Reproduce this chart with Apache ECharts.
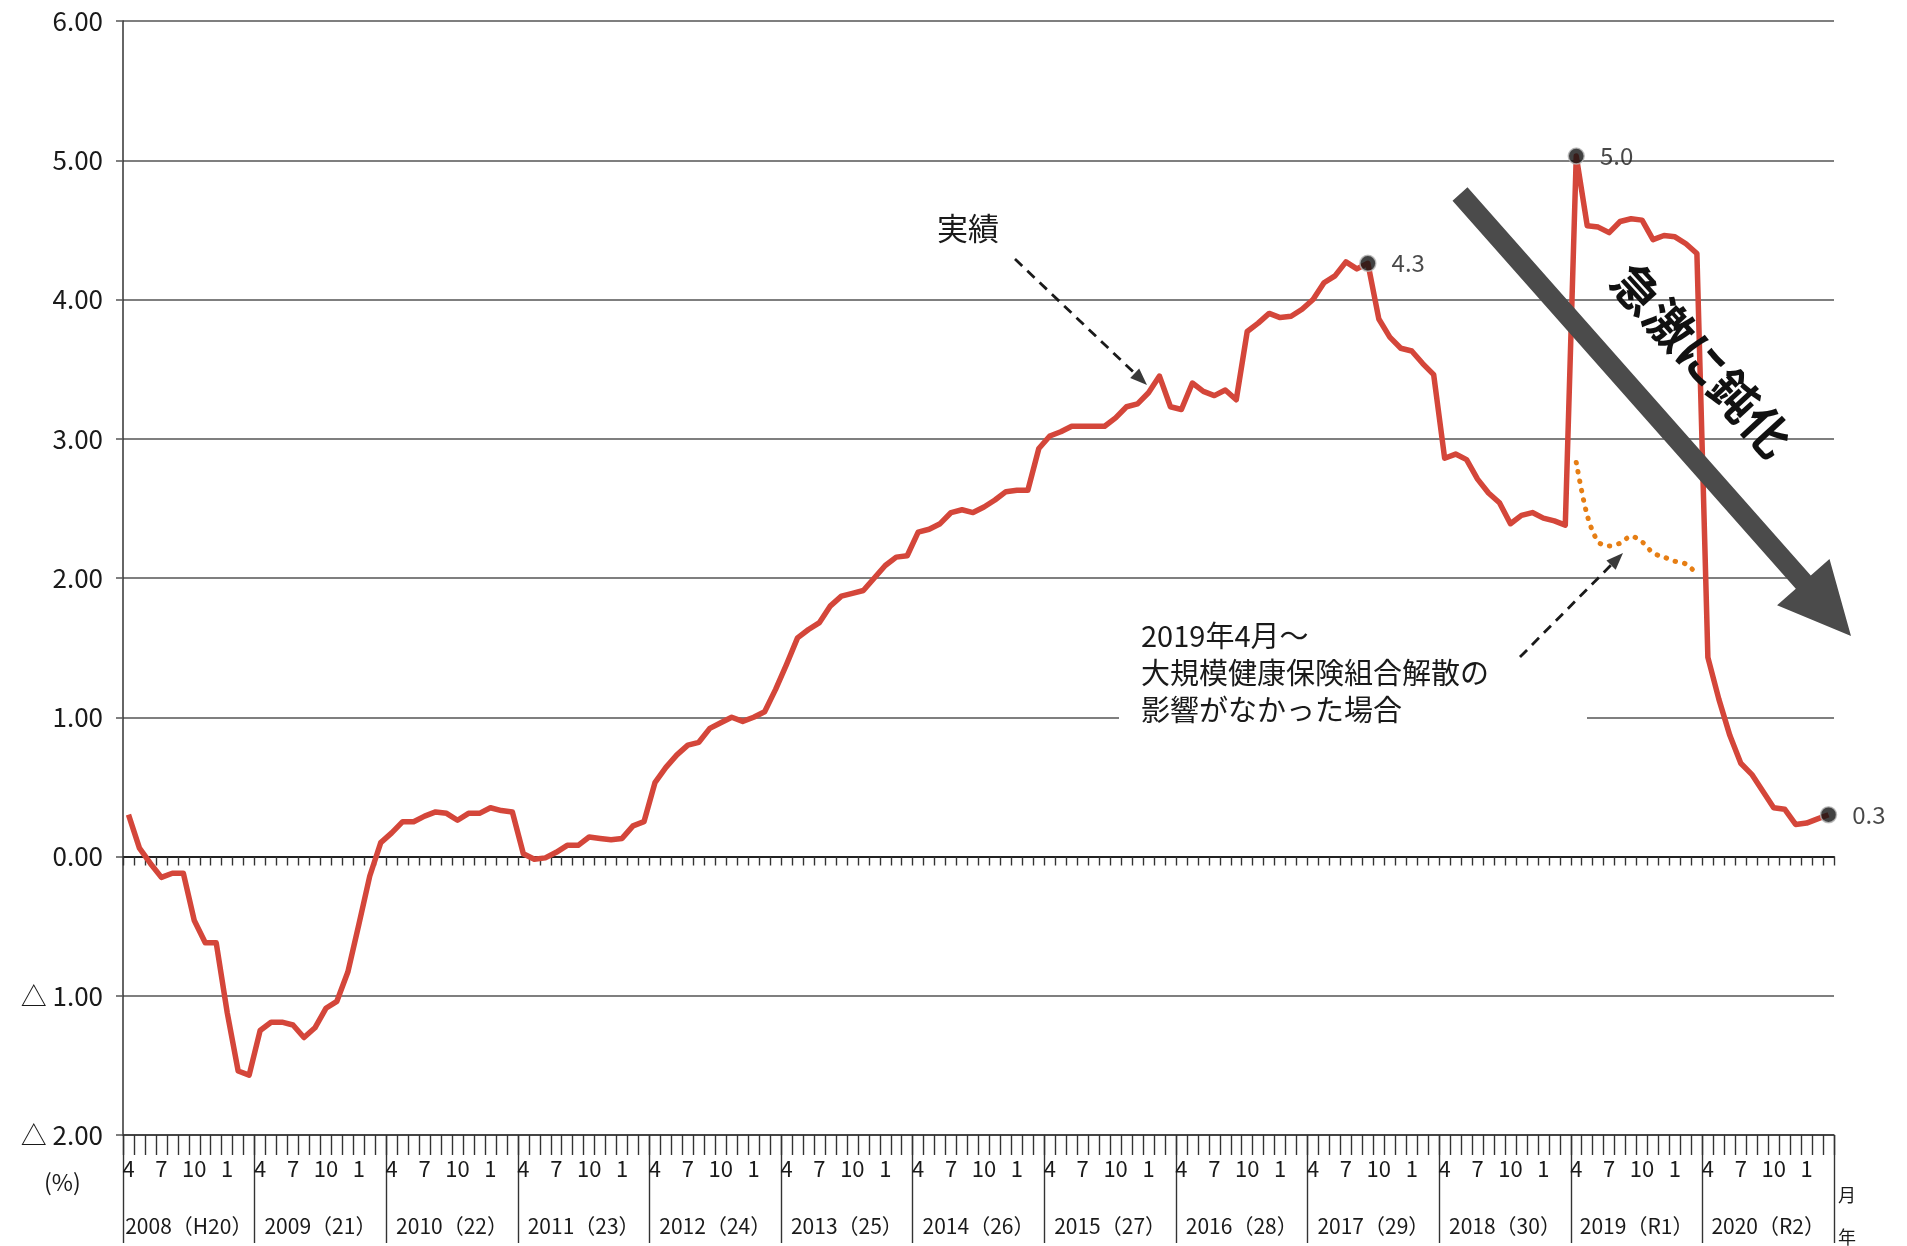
<!DOCTYPE html>
<html><head><meta charset="utf-8">
<script src="https://cdn.jsdelivr.net/npm/echarts@6/dist/echarts.min.js"></script>
<style>html,body{margin:0;padding:0;background:#fff}#c{width:1907px;height:1246px}</style>
</head><body><div id="c"></div>
<script>
// ---- data ----
const fiscalYears = ['2008（H20）','2009（21）','2010（22）','2011（23）','2012（24）','2013（25）','2014（26）','2015（27）','2016（28）','2017（29）','2018（30）','2019（R1）','2020（R2）'];
const fyStarts = [2008,2009,2010,2011,2012,2013,2014,2015,2016,2017,2018,2019,2020];
const monthLabels = ['4','5','6','7','8','9','10','11','12','1','2','3'];
const shownMonths = ['4','7','10','1'];
// 実績 (monthly, Apr 2008 - Mar 2021)
const actual = [
  0.30, 0.06,-0.05,-0.15,-0.12,-0.12,-0.46,-0.62,-0.62,-1.12,-1.54,-1.57,
 -1.25,-1.19,-1.19,-1.21,-1.30,-1.23,-1.09,-1.04,-0.83,-0.49,-0.14, 0.10,
  0.17, 0.25, 0.25, 0.29, 0.32, 0.31, 0.26, 0.31, 0.31, 0.35, 0.33, 0.32,
  0.02,-0.02,-0.01, 0.03, 0.08, 0.08, 0.14, 0.13, 0.12, 0.13, 0.22, 0.25,
  0.53, 0.64, 0.73, 0.80, 0.82, 0.92, 0.96, 1.00, 0.97, 1.00, 1.04, 1.20,
  1.38, 1.57, 1.63, 1.68, 1.80, 1.87, 1.89, 1.91, 2.00, 2.09, 2.15, 2.16,
  2.33, 2.35, 2.39, 2.47, 2.49, 2.47, 2.51, 2.56, 2.62, 2.63, 2.63, 2.93,
  3.02, 3.05, 3.09, 3.09, 3.09, 3.09, 3.15, 3.23, 3.25, 3.33, 3.45, 3.23,
  3.21, 3.40, 3.34, 3.31, 3.35, 3.28, 3.77, 3.83, 3.90, 3.87, 3.88, 3.93,
  4.00, 4.12, 4.17, 4.27, 4.22, 4.26, 3.86, 3.73, 3.65, 3.63, 3.54, 3.46,
  2.86, 2.89, 2.85, 2.71, 2.61, 2.54, 2.39, 2.45, 2.47, 2.43, 2.41, 2.38,
  5.03, 4.53, 4.52, 4.48, 4.56, 4.58, 4.57, 4.43, 4.46, 4.45, 4.40, 4.33,
  1.43, 1.13, 0.87, 0.67, 0.59, 0.47, 0.35, 0.34, 0.23, 0.24, 0.27, 0.30
];
// 2019年4月～ 大規模健保組合解散の影響がなかった場合 (FY2019)
const withoutDissolution = [2.83, 2.45, 2.26, 2.23, 2.25, 2.30, 2.26, 2.18, 2.15, 2.12, 2.10, 2.03];
const withoutDissolutionFY = 2019;
const highlightedMonths = [['2017','9'],['2019','4'],['2020','3']]; // [fiscal year, month]
const yMin = -2, yMax = 6, yStep = 1;

// ---- build ----
const categories = [];
fyStarts.forEach(fy => monthLabels.forEach(m => categories.push(fy + '-' + m)));
const startIdx = categories.indexOf(withoutDissolutionFY + '-4');
const dottedData = categories.map((c, i) => (i >= startIdx && i < startIdx + withoutDissolution.length) ? withoutDissolution[i - startIdx] : null);
const highlightData = highlightedMonths.map(([fy, m]) => {
  const idx = categories.indexOf(fy + '-' + m);
  return [idx, actual[idx]];
});

const FONT = '"Noto Sans CJK JP", "Noto Sans", sans-serif';
const chart = echarts.init(document.getElementById('c'), null, {renderer: 'canvas'});

function arrowPoly(x1, y1, x2, y2, shaftW, headL, headW) {
  const dx = x2 - x1, dy = y2 - y1, L = Math.hypot(dx, dy);
  const ux = dx / L, uy = dy / L, nx = -uy, ny = ux;
  const bx = x2 - ux * headL, by = y2 - uy * headL;
  return [
    [x1 + nx * shaftW / 2, y1 + ny * shaftW / 2],
    [bx + nx * shaftW / 2, by + ny * shaftW / 2],
    [bx + nx * headW / 2, by + ny * headW / 2],
    [x2, y2],
    [bx - nx * headW / 2, by - ny * headW / 2],
    [bx - nx * shaftW / 2, by - ny * shaftW / 2],
    [x1 - nx * shaftW / 2, y1 - ny * shaftW / 2]
  ];
}
function dashedArrow(x1, y1, x2, y2) {
  const dx = x2 - x1, dy = y2 - y1, L = Math.hypot(dx, dy);
  const ux = dx / L, uy = dy / L, nx = -uy, ny = ux;
  const hl = 17, hw = 13;
  const bx = x2 - ux * hl, by = y2 - uy * hl;
  return [
    {type: 'line', z: 100, shape: {x1: x1, y1: y1, x2: bx, y2: by},
     style: {stroke: '#1a1a1a', lineWidth: 2.8, lineDash: [10, 7]}},
    {type: 'polygon', z: 100, shape: {points: [[x2, y2], [bx + nx * hw / 2, by + ny * hw / 2], [bx - nx * hw / 2, by - ny * hw / 2]]},
     style: {fill: '#3a3a3a'}}
  ];
}

const graphics = [
  // white box behind note text
  {type: 'rect', z: 1, shape: {x: 1119, y: 610, width: 468, height: 122}, style: {fill: '#fff'}},
  {type: 'text', z: 100, left: 1141, top: 617,
   style: {text: '2019年4月～\n大規模健康保険組合解散の\n影響がなかった場合', font: '29px ' + FONT, fill: '#1a1a1a', lineHeight: 37}},
  {type: 'text', z: 100, left: 937, top: 213, style: {text: '実績', font: '31px ' + FONT, fill: '#1a1a1a'}},
  ...dashedArrow(1015, 259, 1147, 385),
  ...dashedArrow(1520, 657, 1623, 553),
  {type: 'polygon', z: 90, shape: {points: arrowPoly(1460, 194, 1851, 636, 20, 72, 70)},
   style: {fill: '#4b4b4b'}},
  {type: 'text', z: 100, x: 1702, y: 360, rotation: -0.83,
   style: {text: '急激に鈍化', font: 'bold 48px ' + FONT, fill: '#111', align: 'center', verticalAlign: 'middle'}},
  {type: 'text', z: 100, left: 44, top: 1171, style: {text: '(%)', font: '23px ' + FONT, fill: '#1a1a1a'}},
  {type: 'text', z: 100, left: 1838, top: 1186, style: {text: '月', font: '18px ' + FONT, fill: '#1a1a1a'}},
  {type: 'text', z: 100, left: 1838, top: 1228, style: {text: '年', font: '18px ' + FONT, fill: '#1a1a1a'}}
];

const option = {
  backgroundColor: '#fff',
  animation: false,
  grid: {left: 123, right: 73, top: 21, bottom: 111, containLabel: false},
  xAxis: [
    { // zero line with monthly ticks
      type: 'category', data: categories, boundaryGap: true,
      axisLine: {onZero: true, lineStyle: {color: '#222', width: 1.8}},
      axisTick: {show: true, interval: 0, length: 9, lineStyle: {color: '#333', width: 1.4}},
      axisLabel: {show: false}, splitLine: {show: false}
    },
    { // bottom month axis
      type: 'category', data: categories, boundaryGap: true, position: 'bottom',
      axisLine: {onZero: false, lineStyle: {color: '#333', width: 1.5}},
      axisTick: {show: true, interval: 0, length: 20, lineStyle: {color: '#333', width: 1.4}},
      axisLabel: {
        interval: (idx, val) => shownMonths.includes(val.split('-')[1]),
        formatter: v => v.split('-')[1],
        margin: 23, fontSize: 22, color: '#1a1a1a', fontFamily: FONT
      },
      splitLine: {show: false}
    },
    { // fiscal year row
      type: 'category', data: fiscalYears, boundaryGap: true, position: 'bottom',
      axisLine: {show: false, onZero: false},
      axisTick: {show: true, interval: 0, length: 108, lineStyle: {color: '#333', width: 1.4}},
      axisLabel: {interval: 0, margin: 81, fontSize: 21, color: '#1a1a1a', fontFamily: FONT},
      splitLine: {show: false}
    }
  ],
  yAxis: {
    type: 'value', min: yMin, max: yMax, interval: yStep,
    axisLine: {show: true, lineStyle: {color: '#333', width: 1.5}},
    axisTick: {show: true, length: 7, lineStyle: {color: '#555', width: 1.5}},
    axisLabel: {
      formatter: v => v < 0 ? '△ ' + Math.abs(v).toFixed(2) : v.toFixed(2),
      fontSize: 26, color: '#1a1a1a', fontFamily: FONT, margin: 20
    },
    splitLine: {show: true, lineStyle: {color: '#555', width: 1.5}}
  },
  series: [
    {
      name: '実績', type: 'line', xAxisIndex: 1, data: actual, symbol: 'none', z: 5,
      lineStyle: {color: '#d4463a', width: 5.5, join: 'round'}
    },
    {
      name: '影響がなかった場合', type: 'line', xAxisIndex: 1, data: dottedData, symbol: 'none', z: 4,
      smooth: 0.3, connectNulls: false,
      lineStyle: {color: '#e67e14', width: 5, type: [0.5, 9], cap: 'round'}
    },
    {
      name: 'highlight', type: 'scatter', xAxisIndex: 1, data: highlightData, z: 10,
      symbolSize: 16, itemStyle: {color: '#111', borderColor: '#bbb', borderWidth: 1.5},
      label: {show: true, position: 'right', distance: 15, formatter: p => p.value[1].toFixed(1),
              fontSize: 24, color: '#1a1a1a', fontFamily: FONT}
    }
  ],
  graphic: graphics
};
chart.setOption(option);
</script>
</body></html>
